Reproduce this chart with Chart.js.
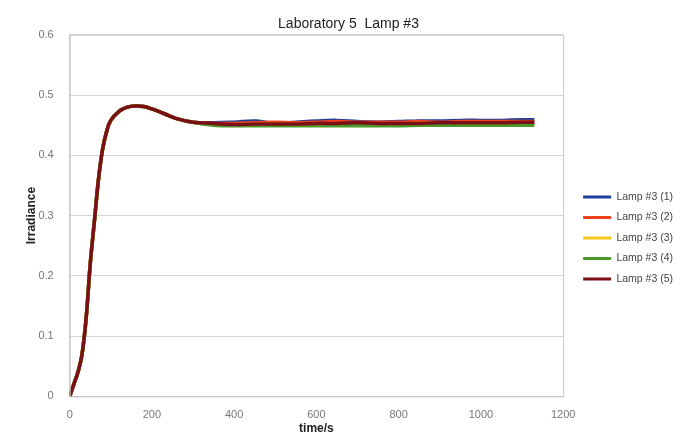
<!DOCTYPE html>
<html>
<head>
<meta charset="utf-8">
<script src="https://cdn.jsdelivr.net/npm/chart.js@4"></script>
<style>
  html, body { margin: 0; padding: 0; background: #fff; }
  #wrap { width: 685px; height: 436px; }
</style>
</head>
<body>
<div id="wrap"><canvas id="chart" width="685" height="436"></canvas></div>
<script>
const TITLE = "Laboratory 5  Lamp #3";
const LABELS = ["Lamp #3 (1)", "Lamp #3 (2)", "Lamp #3 (3)", "Lamp #3 (4)", "Lamp #3 (5)"];
const COLORS = ["#1f3f9a", "#f0401e", "#f5c81a", "#4a9a2a", "#7a1016"];

const times = [0, 10, 20, 30, 40, 50, 60, 70, 80, 90, 100, 120, 140, 160, 180, 200, 230, 260, 300,
  350, 400, 450, 500, 550, 600, 650, 700, 750, 800, 850, 900, 950, 1000, 1050, 1100, 1130];

// shared warm-up part (0..300 s), the five runs overlap here
const rise = [0, 0.02, 0.04, 0.07, 0.13, 0.22, 0.29, 0.36, 0.41, 0.44, 0.458, 0.473, 0.48, 0.482, 0.481, 0.477, 0.469, 0.461, 0.455];

const lamp1 = rise.concat([0.454, 0.455, 0.457, 0.453, 0.455, 0.457, 0.458, 0.456, 0.455, 0.456, 0.457, 0.457, 0.458, 0.458, 0.458, 0.459, 0.459]);
const lamp2 = rise.concat([0.453, 0.453, 0.454, 0.455, 0.454, 0.455, 0.456, 0.455, 0.455, 0.455, 0.456, 0.455, 0.456, 0.456, 0.456, 0.456, 0.456]);
const lamp3 = rise.concat([0.451, 0.451, 0.452, 0.452, 0.451, 0.452, 0.452, 0.452, 0.452, 0.452, 0.453, 0.453, 0.453, 0.452, 0.452, 0.453, 0.453]);
const lamp4 = rise.concat([0.45, 0.449, 0.449, 0.449, 0.449, 0.449, 0.449, 0.449, 0.449, 0.449, 0.45, 0.45, 0.45, 0.45, 0.45, 0.45, 0.45]);
const lamp5 = rise.concat([0.453, 0.451, 0.452, 0.452, 0.452, 0.453, 0.453, 0.454, 0.453, 0.453, 0.453, 0.454, 0.454, 0.454, 0.454, 0.455, 0.455]);
const series = [lamp1, lamp2, lamp3, lamp4, lamp5];

const FONT = "Liberation Sans";

const plotBorder = {
  id: "plotBorder",
  afterDatasetsDraw(chart) {
    const { ctx, chartArea: { left, top, right, bottom } } = chart;
    ctx.save();
    ctx.strokeStyle = "#c8c8c8";
    ctx.lineWidth = 1;
    ctx.strokeRect(left + 0.5, top + 0.5, right - left, bottom - top);
    ctx.restore();
  },
};

// nudge the legend a bit right and down, like the original sheet
const legendShift = {
  id: "legendShift",
  afterLayout(chart) {
    const lg = chart.legend;
    if (!lg) return;
    lg.left += 10; lg.right += 10;
    lg.top += 12; lg.bottom += 12;
  },
};

new Chart(document.getElementById("chart"), {
  type: "line",
  data: {
    datasets: series.map((s, i) => ({
      label: LABELS[i],
      data: times.map((t, j) => ({ x: t, y: s[j] })),
      borderColor: COLORS[i],
      backgroundColor: COLORS[i],
      borderWidth: 3.5,
      pointRadius: 0,
      tension: 0.4,
      fill: false,
      order: 5 - i,
    })),
  },
  options: {
    responsive: false,
    animation: false,
    layout: { padding: { top: 16, right: 12, bottom: 0, left: 24 } },
    plugins: {
      title: {
        display: true,
        text: TITLE,
        color: "#222",
        font: { family: FONT, size: 14, weight: "normal" },
        padding: { top: 0, bottom: 2 },
      },
      legend: {
        position: "right",
        labels: {
          boxWidth: 28,
          boxHeight: 3,
          padding: 10,
          color: "#444",
          font: { family: FONT, size: 10.5 },
          sort: (a, b) => a.datasetIndex - b.datasetIndex,
          generateLabels(chart) {
            return Chart.defaults.plugins.legend.labels.generateLabels(chart)
              .map(item => ({ ...item, lineWidth: 0 }));
          },
        },
      },
      tooltip: { enabled: false },
    },
    scales: {
      x: {
        type: "linear",
        min: 0,
        max: 1200,
        ticks: {
          stepSize: 200,
          color: "#777",
          font: { family: FONT, size: 11 },
          padding: 2,
          callback: v => String(v),
        },
        grid: { display: false, tickLength: 10 },
        border: { color: "#c8c8c8" },
        title: {
          display: true,
          text: "time/s",
          color: "#222",
          font: { family: FONT, size: 12, weight: "bold" },
          padding: { top: -2, bottom: 0 },
        },
      },
      y: {
        min: 0,
        max: 0.6,
        ticks: { stepSize: 0.1, color: "#777", font: { family: FONT, size: 11 }, padding: 16 },
        grid: { color: "#d4d4d4", drawTicks: false },
        border: { color: "#c8c8c8" },
        title: {
          display: true,
          text: "Irradiance",
          color: "#222",
          font: { family: FONT, size: 12, weight: "bold" },
          padding: { top: 0, bottom: -16 },
        },
      },
    },
  },
  plugins: [plotBorder, legendShift],
});
</script>
</body>
</html>
